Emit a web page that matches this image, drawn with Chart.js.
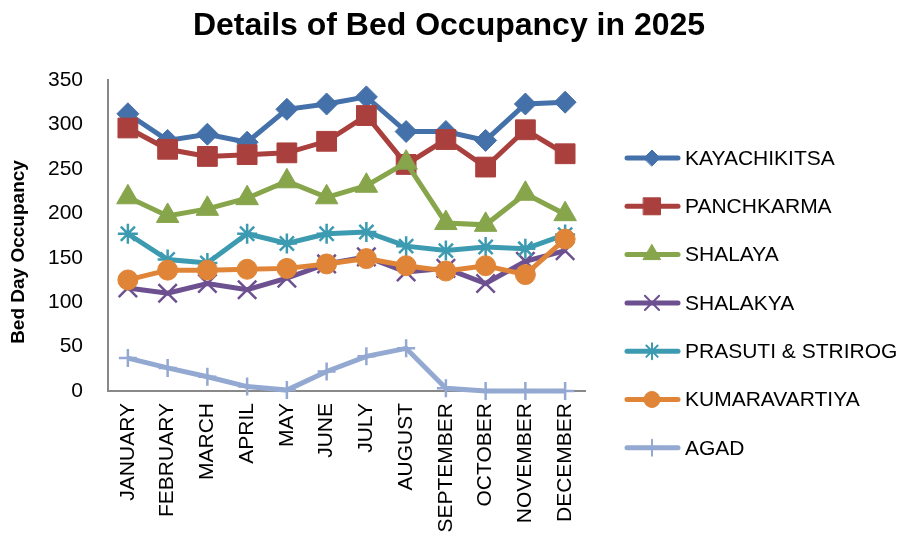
<!DOCTYPE html>
<html lang="en">
<head>
    <meta charset="UTF-8">
    <title>Details of Bed Occupancy in 2025</title>
    <script src="https://cdn.jsdelivr.net/npm/chart.js"></script>
    <style>
        body { margin: 0; background: #fff; }
        #grafico { display: block; }
    </style>
</head>
<body>
    <canvas id="grafico" width="905" height="539"></canvas>

<script>
    // dados
    const meses = ['JANUARY', 'FEBRUARY', 'MARCH', 'APRIL', 'MAY', 'JUNE', 'JULY', 'AUGUST', 'SEPTEMBER', 'OCTOBER', 'NOVEMBER', 'DECEMBER'];
    const kayachikitsa = [312, 282, 289, 280, 317, 323, 331, 292, 292, 282, 323, 325];
    const panchkarma = [296, 272, 264, 266, 268, 281, 310, 255, 283, 252, 294, 267];
    const shalaya = [218, 197, 205, 217, 236, 218, 231, 257, 189, 187, 222, 199];
    const shalakya = [116, 110, 121, 114, 127, 143, 151, 134, 138, 121, 146, 158];
    const prasuti = [177, 148, 144, 177, 166, 177, 179, 163, 158, 162, 160, 176];
    const kumaravartiya = [125, 136, 136, 137, 138, 143, 149, 141, 135, 141, 131, 171];
    const agad = [37, 26, 16, 5, 1, 22, 39, 48, 3, 0, 0, 0];
    const yTicks = [0, 50, 100, 150, 200, 250, 300, 350];

    const fonte = "'Liberation Sans', Arial, sans-serif";
    const titulo = 'Details of Bed Occupancy in 2025';
    const tituloY = 'Bed Day Occupancy';

    // raio no gráfico / raio na legenda
    const series = [
        { nome: 'KAYACHIKITSA', dados: kayachikitsa, cor: '#4571AA', estilo: 'rectRot', raio: 11, raioLeg: 8 },
        { nome: 'PANCHKARMA', dados: panchkarma, cor: '#AA403D', estilo: 'rect', raio: 14, raioLeg: 12 },
        { nome: 'SHALAYA', dados: shalaya, cor: '#87A54B', estilo: 'triangle', raio: 13, raioLeg: 10 },
        { nome: 'SHALAKYA', dados: shalakya, cor: '#6D5090', estilo: 'crossRot', raio: 13, raioLeg: 10 },
        { nome: 'PRASUTI & STRIROG', dados: prasuti, cor: '#3C9BB1', estilo: 'star', raio: 10, raioLeg: 8 },
        { nome: 'KUMARAVARTIYA', dados: kumaravartiya, cor: '#E08538', estilo: 'circle', raio: 10, raioLeg: 8 },
        { nome: 'AGAD', dados: agad, cor: '#93A9D1', estilo: 'cross', raio: 9, raioLeg: 8 }
    ];
    const linhas = ['crossRot', 'star', 'cross'];

    // título, título do eixo Y e legenda desenhados à mão
    const textosExtras = {
        id: 'textosExtras',
        afterDraw(chart) {
            const ctx = chart.ctx;
            ctx.save();
            ctx.fillStyle = '#000';
            ctx.textAlign = 'center';
            ctx.textBaseline = 'middle';
            ctx.font = 'bold 32px ' + fonte;
            ctx.fillText(titulo, 449, 26);

            ctx.translate(19, 252);
            ctx.rotate(-Math.PI / 2);
            ctx.font = 'bold 19px ' + fonte;
            ctx.fillText(tituloY, 0, 0);
            ctx.restore();

            chart.data.datasets.forEach((ds, i) => {
                const y = 158 + i * 48.3;
                const s = series[i];
                ctx.save();
                ctx.strokeStyle = ds.borderColor;
                ctx.lineWidth = 5;
                ctx.lineCap = 'round';
                ctx.beginPath();
                ctx.moveTo(627, y);
                ctx.lineTo(678, y);
                ctx.stroke();
                ctx.fillStyle = ds.backgroundColor;
                ctx.strokeStyle = ds.borderColor;
                const fino = linhas.includes(ds.pointStyle);
                ctx.lineWidth = fino ? 2 : 1;
                Chart.helpers.drawPoint(ctx, {
                    pointStyle: ds.pointStyle,
                    radius: s.raioLeg,
                    rotation: 0,
                    borderWidth: fino ? 2 : 1
                }, 652, y);
                ctx.fillStyle = '#000';
                ctx.font = '21px ' + fonte;
                ctx.textBaseline = 'middle';
                ctx.textAlign = 'left';
                ctx.fillText(ds.label, 685, y + 1);
                ctx.restore();
            });
        }
    };

    const grafico = new Chart(document.getElementById('grafico'), {
        type: 'line',
        data: {
            labels: meses,
            datasets: series.map((s, i) => ({
                label: s.nome,
                data: s.dados,
                borderColor: s.cor,
                backgroundColor: s.cor,
                borderWidth: 5,
                pointStyle: s.estilo,
                pointRadius: s.raio,
                pointHoverRadius: s.raio,
                pointBorderWidth: linhas.includes(s.estilo) ? 2.5 : 1,
                tension: 0,
                order: series.length - i,
                clip: false
            }))
        },
        options: {
            responsive: false,
            maintainAspectRatio: false,
            animation: false,
            layout: { padding: { top: 80, left: 0, right: 320, bottom: 0 } },
            plugins: {
                legend: { display: false },
                tooltip: { enabled: false },
                title: { display: false }
            },
            scales: {
                x: {
                    offset: true,
                    grid: { display: false, drawTicks: false },
                    border: { color: '#888', width: 2 },
                    ticks: {
                        autoSkip: false,
                        minRotation: 90,
                        maxRotation: 90,
                        padding: 12,
                        color: '#000',
                        font: { family: fonte, size: 21 }
                    },
                    afterFit(scale) { scale.height = 148; }
                },
                y: {
                    min: 0,
                    max: 350,
                    afterBuildTicks(scale) { scale.ticks = yTicks.map(v => ({ value: v })); },
                    grid: { display: false, drawTicks: false },
                    border: { color: '#888', width: 2 },
                    ticks: {
                        padding: 25,
                        color: '#000',
                        font: { family: fonte, size: 21 }
                    },
                    afterFit(scale) { scale.width = 108; }
                }
            }
        },
        plugins: [textosExtras]
    });
</script>
</body>
</html>
